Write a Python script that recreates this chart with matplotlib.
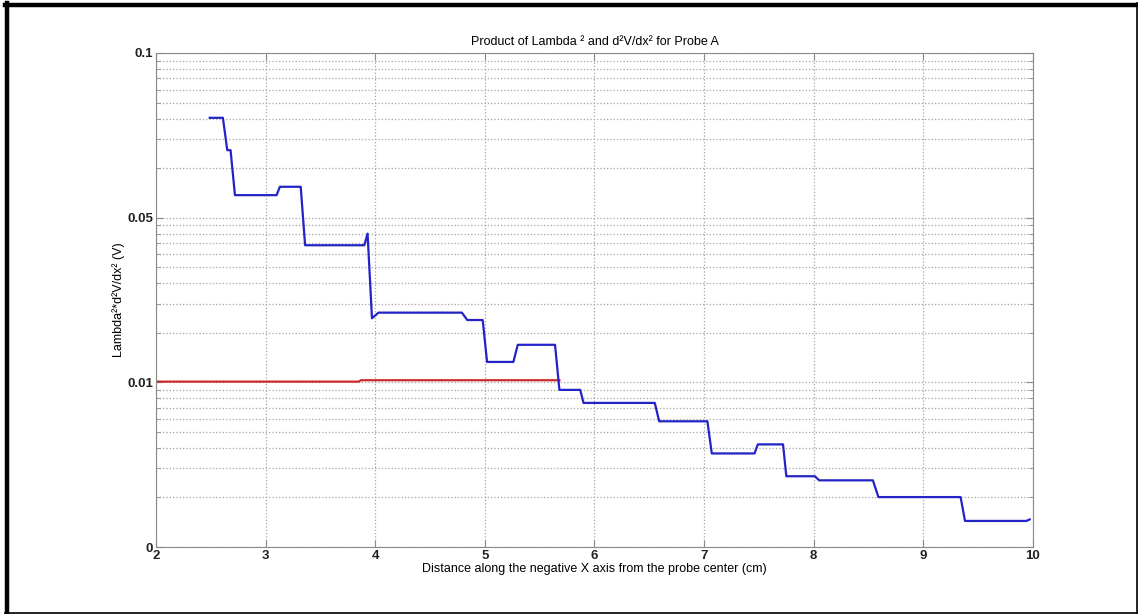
import numpy as np
import matplotlib.pyplot as plt
from matplotlib.ticker import NullFormatter, LogLocator
from matplotlib.lines import Line2D

plt.rcParams['font.family'] = ['Liberation Sans', 'DejaVu Sans']

# Blue step curve (values in the plot's own log-axis units)
x_blue = [2.49, 2.61, 2.65, 2.68, 2.72, 3.10, 3.13, 3.32, 3.36, 3.90, 3.93, 3.97, 4.03,
          4.79, 4.84, 4.98, 5.02, 5.26, 5.30, 5.64, 5.68, 5.87, 5.90, 6.55, 6.59, 7.03,
          7.07, 7.46, 7.49, 7.72, 7.75, 8.01, 8.05, 8.54, 8.59, 9.34, 9.38, 9.94, 9.97]
y_blue = [0.404, 0.404, 0.257, 0.257, 0.137, 0.137, 0.154, 0.154, 0.068, 0.068, 0.080,
          0.0245, 0.0265, 0.0265, 0.0239, 0.0239, 0.0133, 0.0133, 0.0169, 0.0169, 0.0090,
          0.0090, 0.0075, 0.0075, 0.0058, 0.0058, 0.0037, 0.0037, 0.0042, 0.0042, 0.00269,
          0.00269, 0.00254, 0.00254, 0.00201, 0.00201, 0.00144, 0.00144, 0.00147]

# Red reference line
x_red = [2.0, 3.85, 3.87, 5.68]
y_red = [0.0101, 0.0101, 0.0103, 0.0103]

y_ticks = [1e-3, 1e-2, 1e-1, 1]
y_ticklabels = ['0', '0.01', '0.05', '0.1']
x_ticks = [2, 3, 4, 5, 6, 7, 8, 9, 10]

fig = plt.figure(figsize=(11.38, 6.14), dpi=100)
ax = fig.add_axes([0.1371, 0.1091, 0.7706, 0.8046])

ax.plot(x_red, y_red, color='#cc2b2b', linewidth=1.6)
ax.plot(x_blue, y_blue, color='#2323c8', linewidth=1.6)

ax.set_yscale('log')
ax.set_xlim(2, 10)
ax.set_ylim(1e-3, 1)
ax.set_xticks(x_ticks)
ax.set_yticks(y_ticks)
ax.set_yticklabels(y_ticklabels)
ax.yaxis.set_minor_locator(LogLocator(base=10, subs=np.arange(2, 10)))
ax.yaxis.set_minor_formatter(NullFormatter())

ax.grid(True, which='major', linestyle=':', color='#a5a5a5', linewidth=0.9)
ax.grid(True, which='minor', axis='y', linestyle=':', color='#a5a5a5', linewidth=0.9)

for s in ax.spines.values():
    s.set_color('#8a8a8a')
ax.tick_params(which='both', direction='in', top=True, right=True, colors='#8a8a8a',
               labelcolor='#222222', labelsize=9.5)
ax.tick_params(which='major', length=5, pad=2)
ax.tick_params(which='minor', length=3)
for lab in ax.get_xticklabels() + ax.get_yticklabels():
    lab.set_fontweight('bold')

ax.set_title('Product of Lambda ² and d²V/dx² for Probe A', fontsize=9, pad=6)
ax.set_xlabel('Distance along the negative X axis from the probe center (cm)', fontsize=9, labelpad=1)
ax.set_ylabel('Lambda²*d²V/dx² (V)', fontsize=9, labelpad=2)

# black frame around the figure
fig.add_artist(Line2D([5 / 1138, 1], [1 - 5 / 614, 1 - 5 / 614], color='black', linewidth=3.2))
fig.add_artist(Line2D([7 / 1138, 7 / 1138], [1 / 614, 1 - 3 / 614], color='black', linewidth=3.2))
fig.add_artist(Line2D([5 / 1138, 1], [1.5 / 614, 1.5 / 614], color='black', linewidth=1.2))
fig.add_artist(Line2D([1136.5 / 1138, 1136.5 / 1138], [1 / 614, 1 - 3 / 614], color='black', linewidth=1.2))

fig.savefig('out.png', dpi=100)
